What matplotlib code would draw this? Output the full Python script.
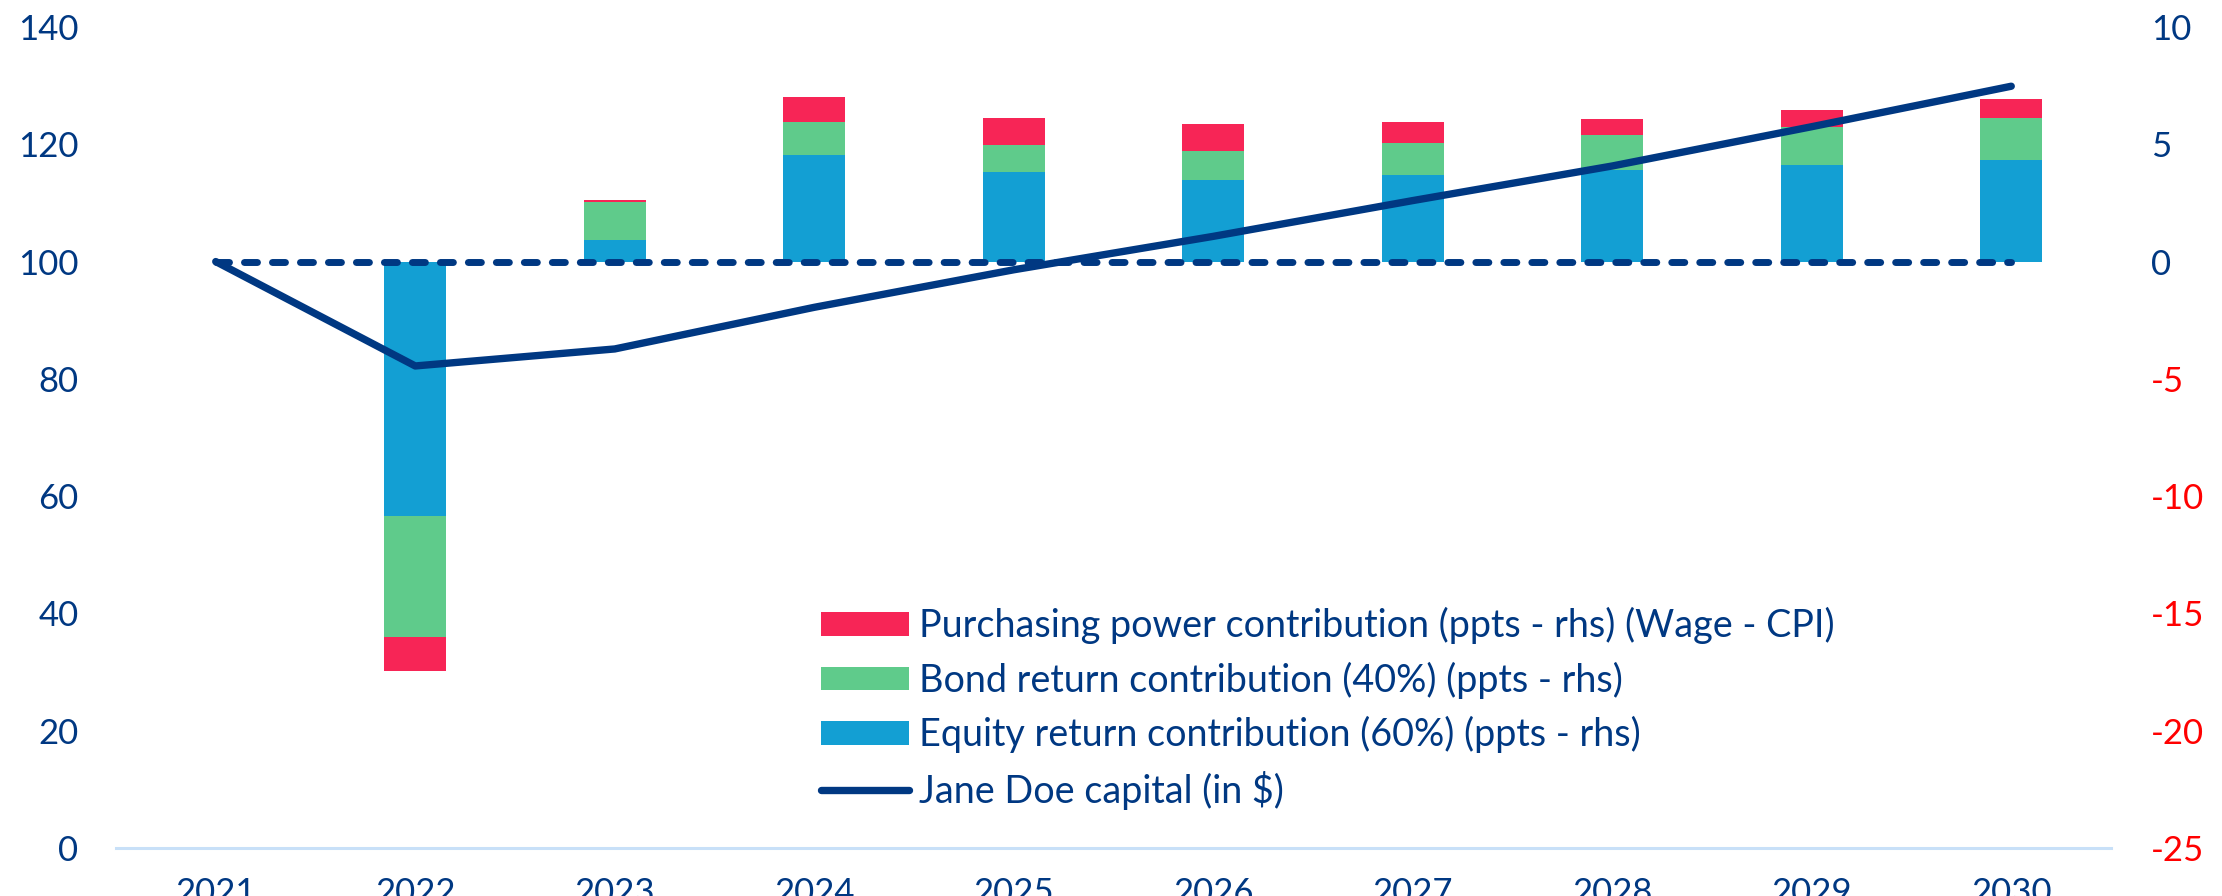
import matplotlib.pyplot as plt
from matplotlib.patches import Patch
from matplotlib.lines import Line2D
import numpy as np

plt.rcParams['font.family'] = ['Lato', 'DejaVu Sans']
plt.rcParams['axes.unicode_minus'] = False

# data
years = ['2021', '2022', '2023', '2024', '2025', '2026', '2027', '2028', '2029', '2030']
capital = [100, 82.2, 85.1, 92.2, 98.6, 104.3, 110.4, 116.3, 123.0, 129.9]
equity = [0, -10.86, 0.91, 4.53, 3.81, 3.47, 3.68, 3.89, 4.10, 4.35]
bond = [0, -5.14, 1.62, 1.40, 1.14, 1.26, 1.39, 1.51, 1.64, 1.79]
purchasing = [0, -1.47, 0.08, 1.09, 1.19, 1.14, 0.90, 0.68, 0.74, 0.77]
baseline = 100

navy = '#003882'
red = '#F72556'
green = '#5FCB8B'
blue = '#139FD3'
axis_blue = '#C8E0F8'

fig = plt.figure(figsize=(22.22, 8.96), dpi=100)
ax = fig.add_axes([116 / 2222, 48 / 896, 1995 / 2222, 821 / 896])
ax2 = ax.twinx()
ax.set_zorder(ax2.get_zorder() + 1)
ax.patch.set_visible(False)

x = np.arange(len(years))
w = 0.31
eq = np.array(equity)
bd = np.array(bond)
pp = np.array(purchasing)
ax2.bar(x, eq, w, color=blue, linewidth=0)
ax2.bar(x, bd, w, bottom=eq, color=green, linewidth=0)
ax2.bar(x, pp, w, bottom=eq + bd, color=red, linewidth=0)

ax.plot(x, [baseline] * len(x), color=navy, lw=5, dashes=(1.87, 2.16),
        dash_capstyle='round')
ax.plot(x, capital, color=navy, lw=5.3, solid_capstyle='round', solid_joinstyle='round')

ax.set_xlim(-0.5, len(years) - 0.5)
ax.set_ylim(0, 140)
ax.set_yticks(np.arange(0, 141, 20))
ax2.set_ylim(-25, 10)
ax2.set_yticks(np.arange(-25, 11, 5))
ax.set_xticks(x)
ax.set_xticklabels(years)

for a in (ax, ax2):
    for s in a.spines.values():
        s.set_visible(False)
    a.tick_params(length=0)
ax.spines['bottom'].set_visible(True)
ax.spines['bottom'].set_color(axis_blue)
ax.spines['bottom'].set_linewidth(2.2)

ax.tick_params(axis='y', labelsize=25, labelcolor=navy, pad=27)
ax.tick_params(axis='x', labelsize=25, labelcolor=navy, pad=21)
ax2.tick_params(axis='y', labelsize=25, pad=29)
for lab, v in zip(ax2.get_yticklabels(), ax2.get_yticks()):
    lab.set_color('#FF0000' if v < 0 else navy)

handles = [
    Patch(color=red, linewidth=0),
    Patch(color=green, linewidth=0),
    Patch(color=blue, linewidth=0),
    Line2D([], [], color=navy, lw=5.3, solid_capstyle='round'),
]
labels = [
    'Purchasing power contribution (ppts - rhs) (Wage - CPI)',
    'Bond return contribution (40%) (ppts - rhs)',
    'Equity return contribution (60%) (ppts - rhs)',
    'Jane Doe capital (in $)',
]
leg = ax.legend(handles, labels, loc='upper left', bbox_to_anchor=(821 / 2222, 1 - 607 / 896),
                bbox_transform=fig.transFigure, frameon=False, fontsize=27.2,
                handlelength=2.33, handleheight=0.58, handletextpad=0.26,
                labelspacing=0.46, borderpad=0, borderaxespad=0)
for t in leg.get_texts():
    t.set_color(navy)

fig.savefig('out.png', dpi=100)
